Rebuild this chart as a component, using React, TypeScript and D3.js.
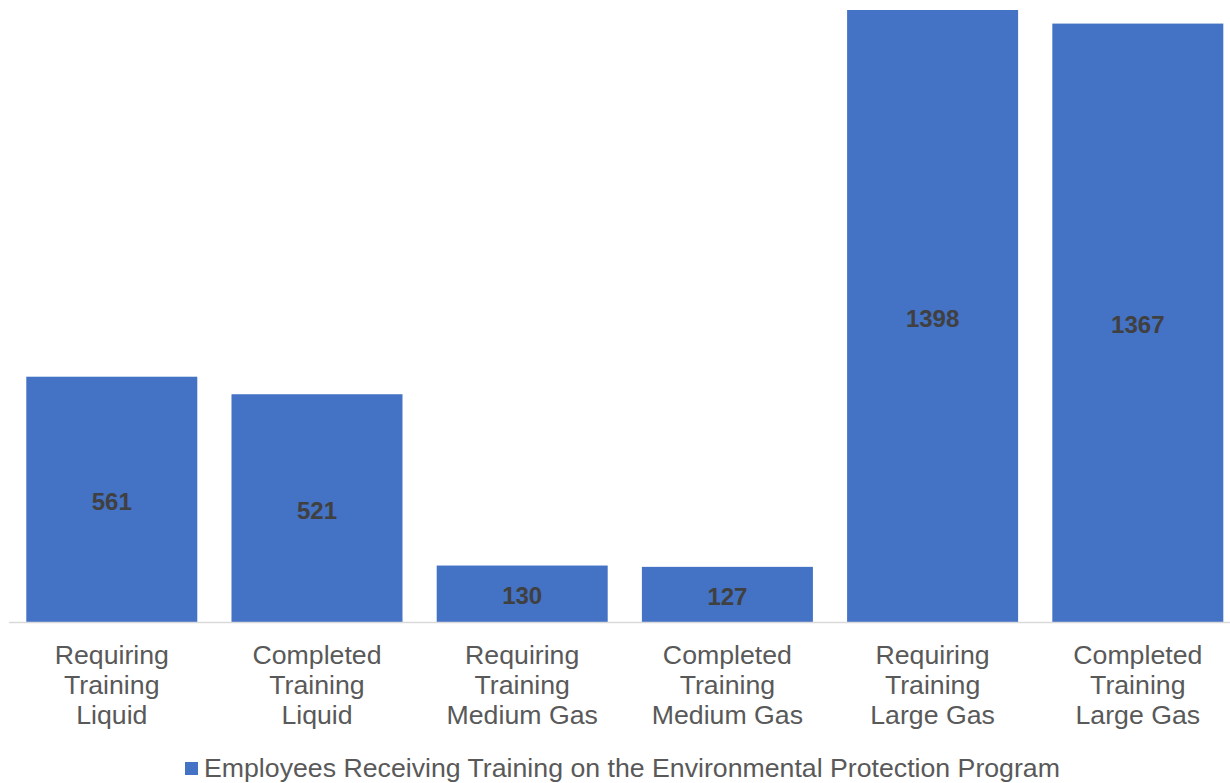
import React from "react";
import * as d3 from "d3";

const categories: string[][] = [
  ["Requiring", "Training", "Liquid"],
  ["Completed", "Training", "Liquid"],
  ["Requiring", "Training", "Medium Gas"],
  ["Completed", "Training", "Medium Gas"],
  ["Requiring", "Training", "Large Gas"],
  ["Completed", "Training", "Large Gas"],
];
const values: number[] = [561, 521, 130, 127, 1398, 1367];
const seriesName = "Employees Receiving Training on the Environmental Protection Program";

const W = 1230;
const H = 783;
const baseY = 622.5;
const topY = 10;
const font = "Arial, 'Liberation Sans', sans-serif";

export default function App() {
  const idx = values.map((_, i) => String(i));
  const x = d3.scaleBand<string>().domain(idx).range([9.2, 9.2 + 6 * 205.2]).paddingInner(0.1667).paddingOuter(0.0833);
  const y = d3.scaleLinear().domain([0, 1398]).range([baseY, topY]);
  return (
    <svg width={W} height={H} style={{ position: "absolute", left: 0, top: 0 }} fontFamily={font}>
      {values.map((v, i) => (
        <g key={i}>
          <rect x={x(String(i))} y={y(v)} width={x.bandwidth()} height={baseY - y(v)} fill="#4472C4" />
          <text
            x={(x(String(i)) as number) + x.bandwidth() / 2}
            y={(y(v) + baseY) / 2}
            dy="0.43em"
            textAnchor="middle"
            fontSize={24}
            fontWeight="bold"
            fill="#404040"
          >
            {v}
          </text>
          {categories[i].map((line, j) => (
            <text
              key={j}
              x={(x(String(i)) as number) + x.bandwidth() / 2}
              y={664 + j * 30}
              textAnchor="middle"
              fontSize={26.7}
              fill="#595959"
            >
              {line}
            </text>
          ))}
        </g>
      ))}
      <line x1={9} x2={1230} y1={baseY} y2={baseY} stroke="#D9D9D9" strokeWidth={1.5} />
      <rect x={185} y={762} width={13} height={13} fill="#4472C4" />
      <text x={204} y={777} fontSize={26.7} fill="#595959">{seriesName}</text>
    </svg>
  );
}
